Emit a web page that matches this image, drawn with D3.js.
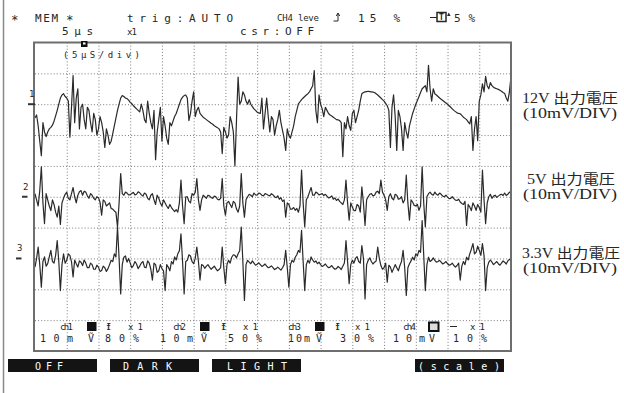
<!DOCTYPE html>
<html>
<head>
<meta charset="utf-8">
<script src="https://cdn.jsdelivr.net/npm/d3@7"></script>
<style>
  html, body { margin: 0; padding: 0; background: #fff; }
  svg { display: block; }
</style>
</head>
<body>
<svg id="scope" width="624" height="393"></svg>
<script>
// ---- acquisition settings ----
const sampleStep = 0.25;         // µs between stored samples
const timeSpan = 75;             // 15 divisions × 5 µs
const mvPerDiv = 10;             // vertical sensitivity of every channel
const groundDiv = [2, 5, 7];     // ground marker of ch1..ch3, in divisions from the top

// ---- stored waveforms (mV relative to each channel's ground marker) ----
const ch1Values = [
  -4.5,-3.5,-7,-12,-16.7,-6,-9,-10.5,-9,-8,-7.5,-6.8,-5.5,-3.8,-2,0,2,3,3.4,2.5,
  2,1,-10.7,-1,9.3,-6,2,5,-8,-1,0,-5,-8,-1,-2,-6,-9,-3,-5,-10,
  -8,-4,-6,-9,-14,-8,-10,-13,-12,-9.5,-7,-4.5,-2,0,2,2.8,2.5,2,1.8,1.3,
  0.6,0.2,-0.5,-1,-1.5,-2,-2.5,0,-2,-5,-6,1,-3,-6,-8,-2,-18,-9,-5,-1,
  -12,-4,-7,-11,-13,-6,-7,-5.5,-4,-3,-1.5,0,1.5,2.3,2.8,3,2,-5.3,-3,1,
  4,-4,-2,-1,-3,-3.6,-4.2,-4.6,-5,-5.4,-5.8,-6.2,-6.5,-7,-7.3,-7.6,-8,-9,-16,-7.5,
  -9,-11,-10,-4,-6,-9,-20,-5,8.8,0,1,4,3,1,0,1.5,0,-0.8,-1.5,-2,
  -2.6,-2.8,-3,2,-8,-3,2,-4,-9,-4,-5,-10,-7,-5,-2,-6,-8.5,-11,-15,-8,
  -10.2,-11,-9,-7,-4,-2,0.1,0.8,1.5,2,2.5,3,3.4,4,5,6,10.9,-2,-6,3,
  0,-1.5,-4,-1,-2,-3,-3.5,-3.8,-4.2,-4.6,-5,-5.1,-5.3,-6,-17,-6,-8,-4,-7,-8.5,
  -3,-2,-6,-4,-2,1,3.4,3.8,4,4.1,4.2,4.1,4,3.9,3.8,3.4,3,2.5,2,1.5,
  1,0.3,-0.5,-2,-14,-1,3,-4,-15,-2,-4,-8,-15,-6,-9,-11,-7,-5,-3,-1.5,
  0,1.2,2.5,3.8,5,5.5,6,4,12.6,5,1,5,3.4,3,2.5,2,1.6,1.2,0.8,0.4,
  0,-0.5,-1,-1.5,-2,-2.4,-2.8,-3,-3.1,-3.6,-4.2,-4.6,-5,-5.7,-6.4,-4,-15,-8,-4,-11.8,
  1,3,6.6,4,9,6,5,7,6,5.5,5.2,5,4.8,4.5,4.2,3.8,3.5,2,1,4,
  9
];
const ch2Values = [
  1,-1,-3,2,9.7,-2,-8.7,1,-1,-3,-4.5,-1,-2.5,-5,-6.6,-3,-9,-2,-0.5,0.8,
  1.5,-0.5,-1,1,3,0,-2,0.5,1.6,2,0.5,1.8,1.5,0.3,-0.5,1,0.5,-0.5,-1,0,
  -0.3,-1.8,-6,-1,-1.5,-3,-2.5,-2,-3.8,-4,-4.6,-5,-9.8,-2,7.5,1,0.5,1.5,1.2,0.6,
  0.6,1.1,1.4,0.6,0.8,1.6,1.3,0.6,0.2,1.2,0.8,-0.5,-1,0.5,1,-1,-2.5,0.5,-0.5,-2,
  -3,-1,-2,-3,-3.8,-2.5,-3.5,-4.2,-4.8,-4.2,-5,-2,5.4,-3,-8.7,0,0,-1.5,-2,1,
  0.5,1.5,5.9,-1,-4.4,-1,0.5,0,-0.5,0.5,0.3,-0.3,-0.5,0.2,0,-0.8,-1,-0.5,5.9,-3,
  -6,-2,-1.5,-2.5,-3.5,-1.5,-2,-4,-5,-3,7.5,-2,-6.6,-1,0,0.8,0.5,0,1.2,0.6,
  0.5,1.2,1,0.5,0.3,1,0.8,0.5,0.3,1,0.6,0,-0.3,0.3,-0.8,-0.3,-1.5,-1,-6.6,-2,
  -2.5,-4,-4,-3.5,-4.4,-3.8,-5,-3,8.6,-2,-9.8,-1,0,1.5,3,0.5,0.5,1.5,1.2,0.6,
  0.8,1,0.4,0.8,0.2,-0.4,-0.2,0.3,-0.8,-0.4,-1.2,-0.7,-1.5,-2,-2.5,-1,5.4,-2,-7.6,-2,
  -3.3,-4.5,-4.5,-2.5,-3,-5,3.2,-2,-9.3,-1,0,0.8,1,0.3,0.5,1.5,1.8,1,5.4,1.5,
  0.5,-1,-4.4,0,1,-0.5,-1,0.8,0.5,-0.8,-0.6,0,-2,-1,7,-2,-7.6,-1,-1.7,-2.8,
  -3,-2.5,-4.4,-3,9.7,-2,-9.8,0,1,1.5,0.8,0.5,1.5,0.8,0.5,1.2,0.8,0.2,0,0.5,
  -0.1,-0.6,-0.5,0,-0.6,-1.1,-1.2,-0.8,-1.7,-2.2,-2.5,-1.5,-9.3,-2.5,-3.3,-4.5,-2,-3,-4.4,-2.5,
  -3.5,-5,8.6,-1,-8.7,-2,0,0.8,-0.5,0.2,0.5,-0.2,0.2,0.6,0.8,0.4,1.2,0.4,0.8,1.5,
  1.2
];
const ch3Values = [
  -2.8,0,3.7,-2,-9.3,-1,0.5,-2.5,-1.7,0.5,2.6,-1,-1.5,1,5.8,-1,-10.4,-2,1.5,-1.5,
  -0.6,1.5,1,-1,-6,-0.5,-1.7,-2.8,-0.8,-1.2,-2.3,-0.5,-1.5,-3,-3,-1.5,-2,-3.5,-3.5,-2.2,
  -2.8,-4.2,-3.9,-2.5,-3,-4.2,-3.3,-2,-0.6,-1,1.5,0.5,10.2,0,-11.5,-2,0.4,0.8,-1.2,0,
  -1.5,-3,-2.3,-1,-1.8,-3.3,-2.5,-1.5,-1,-2.8,-3,-0.8,-1.5,-3.5,-7,-1.5,-2,-4.5,-4,-2,
  -3.3,-4,-10.4,-2,-2.8,-4,-1,-1.8,0.5,-0.5,1.5,2.5,8,-1,-11.5,-1,-0.6,1.2,0.8,-1,
  -1.7,0,3.7,-1,-7,-2,-2.3,-3.2,-2.5,-2,-2.8,-3.5,-3,-2.5,-3.3,-4,-3.6,-3,3.7,-3,
  -8.2,-2,-0.6,-1.5,0.4,1.2,1,0.2,1.5,2.5,10.2,-1,-13.6,-2,-0.6,-1.2,-1.7,-0.8,-1.5,-2.2,
  -1.9,-1.4,-2,-2.6,-2.3,-1.8,-2.5,-3,-2.8,-2.4,-3,-3.6,-3.3,-2.8,-3.3,-3.8,-3,-2,2.6,-3,
  -9.3,-2,-0.6,-1.2,0.4,1.2,2.6,2,9.1,-1,-10.4,-2,-0.6,-1.5,0.5,-0.5,-1.2,-0.8,-1.7,-1.2,
  -2,-2.6,-2.3,-1.8,-2.5,-3,-2.8,-2.3,-3,-3.5,-3.3,-2.6,-3,-3.6,-2.5,-1.5,5.8,-1,-8.2,-2,
  -0.6,-1.5,0,0.6,-1,-1.5,4.2,0,-13.1,-2,-0.6,0.2,-1,-1.8,-1.2,-0.8,3.7,0,-2.3,-3.5,
  -3,-1.5,-7.7,-2.2,-2.8,-4.5,-3.3,-2,-3,-4,-2.3,-1,2.6,-3,-12,-3,-1.7,-0.8,0.4,-0.5,
  1.5,0.8,2.6,2,12.3,1,-10.4,-2,0.4,-1,-0.6,0.2,-0.6,-1.2,-1,-0.6,-1.2,-1.8,-1.5,-1,
  -1.7,-2.2,-2,-1.5,-2.3,-2.8,-2.3,-1.5,-7,-2.5,-1,-2,0.4,-0.5,1.5,3,4.8,1.5,2,4,
  2.6,1,4.8,1,-10.4,-3,-1.2,-0.5,-1.2,-2,-1.5,-1,-1.7,-2.2,-1.5,-0.8,-1.2,-1.8,-0.8,-0.3,
  -0.6
];

// ---- labels ----
const channelIds = ["1", "2", "3"];
const railNames = ["12V 出力電圧", "5V 出力電圧", "3.3V 出力電圧"];
const railScale = "(10mV/DIV)";
const channelNames = ["ch1", "ch2", "ch3", "ch4"];
const channelRanges = ["10m", "10m", "10m", "10m"];
const channelFilters = ["80%", "50%", "30%", "10%"];
const softKeys = ["OFF", "DARK", "LIGHT", "(scale)"];

const svg = d3.select("#scope");
const mono = "'DejaVu Sans Mono', 'Liberation Mono', monospace";
const ink = "#262626";

// ---- scales: time across, divisions down ----
const x = d3.scaleLinear().domain([0, timeSpan]).range([35, 511]);
const yDiv = d3.scaleLinear().domain([0, 10]).range([42.5, 351]);

// outer left rule of the screen capture
svg.append("line").attr("x1", 3.5).attr("x2", 3.5).attr("y1", 0).attr("y2", 393)
  .attr("stroke", "#8a8a8a").attr("stroke-width", 1.5);

// ---- dotted graticule drawn with D3 axes ----
svg.append("g").attr("transform", `translate(0,${yDiv(0)})`)
  .call(d3.axisTop(x).tickValues(d3.range(5, timeSpan, 5))
    .tickSize(-(yDiv(10) - yDiv(0))).tickFormat(""))
  .call(g => g.select(".domain").remove())
  .selectAll("line").attr("stroke", "#7a7a7a").attr("stroke-dasharray", "1,2.15");

svg.append("g").attr("transform", `translate(${x(0)},0)`)
  .call(d3.axisLeft(yDiv).tickValues(d3.range(1, 10))
    .tickSize(-(x(timeSpan) - x(0))).tickFormat(""))
  .call(g => g.select(".domain").remove())
  .selectAll("line").attr("stroke", "#7a7a7a").attr("stroke-dasharray", "1,2.1");

// ---- waveforms ----
svg.append("clipPath").attr("id", "screen")
  .append("rect").attr("x", x(0)).attr("y", yDiv(0))
  .attr("width", x(timeSpan) - x(0)).attr("height", yDiv(10) - yDiv(0));

[ch1Values, ch2Values, ch3Values].forEach((vals, c) => {
  const line = d3.line()
    .x((d, i) => x(i * sampleStep))
    .y(d => yDiv(groundDiv[c] - d / mvPerDiv));
  svg.append("path").datum(vals)
    .attr("clip-path", "url(#screen)")
    .attr("d", line)
    .attr("fill", "none")
    .attr("stroke", "#2a2a2a")
    .attr("stroke-width", 1.2)
    .attr("stroke-linejoin", "round");
});

// ---- screen frame ----
svg.append("rect").attr("x", x(0) - 1).attr("y", yDiv(0))
  .attr("width", x(timeSpan) - x(0) + 1).attr("height", yDiv(10) - yDiv(0))
  .attr("fill", "none").attr("stroke", "#6e6e6e").attr("stroke-width", 2);

// helper for scope-style text
function txt(px, py, s, size, len, opts = {}) {
  const t = svg.append("text").attr("x", px).attr("y", py).text(s)
    .attr("font-family", opts.family || mono)
    .attr("font-size", size)
    .attr("fill", opts.fill || ink);
  if (len) t.attr("textLength", len).attr("lengthAdjust", opts.adjust || "spacing");
  if (opts.weight) t.attr("font-weight", opts.weight);
  if (opts.anchor) t.attr("text-anchor", opts.anchor);
  return t;
}

// ---- header lines ----
txt(11, 23.5, "*", 12.5, null, { fill: "#262626" });
txt(35, 22, "MEM", 11, 23);
txt(66, 23.5, "*", 12.5, null, { fill: "#262626" });
txt(127, 22, "trig:AUTO", 11, 106);
txt(277, 21, "CH4 leve", 9, 42);
svg.append("path").attr("d", "M333.5,21 H338 V13.5 M336.3,16 L338,13 L339.7,16")
  .attr("fill", "none").attr("stroke", ink).attr("stroke-width", 1);
txt(358, 22, "15 %", 11, 42);
svg.append("line").attr("x1", 430).attr("x2", 437).attr("y1", 17.5).attr("y2", 17.5)
  .attr("stroke", ink).attr("stroke-width", 1);
svg.append("rect").attr("x", 437).attr("y", 12.5).attr("width", 9).attr("height", 9)
  .attr("fill", "#fff").attr("stroke", ink).attr("stroke-width", 1.5);
txt(441.5, 20, "T", 8, null, { anchor: "middle", weight: "bold" });
svg.append("path").attr("d", "M447,16 L448.8,12.5 L450.6,16 Z").attr("fill", ink);
txt(454, 22, "5%", 11, 21);

txt(62, 35, "5μs", 11, 31);
txt(127, 35, "x1", 9, 10);
txt(240, 35, "csr:OFF", 11, 74);

// time-base note and trigger-position mark inside the screen
txt(63, 58, "(5μS/div)", 9, 77);
svg.append("rect").attr("x", 81).attr("y", 41).attr("width", 6.5).attr("height", 6).attr("fill", "#111");
svg.append("rect").attr("x", 83).attr("y", 42.5).attr("width", 2.5).attr("height", 2).attr("fill", "#fff");

// ---- channel ground markers ----
const markerX = [28, 22, 16];
channelIds.forEach((id, c) => {
  const gy = yDiv(groundDiv[c]);
  txt(markerX[c] + 1, gy - 7, id, 9);
  svg.append("line").attr("x1", markerX[c]).attr("x2", markerX[c] + (c === 0 ? 7 : 5.5))
    .attr("y1", gy).attr("y2", gy).attr("stroke", "#333").attr("stroke-width", 2);
});

// ---- rail captions on the right ----
const captionY = [103, 184, 258];
const captionX = [522, 527, 522];
const captionLen = [96, 88, 98];
const serif = "'Liberation Serif', 'DejaVu Serif', 'Noto Sans CJK JP', serif";
railNames.forEach((name, c) => {
  txt(captionX[c], captionY[c], name, 14, captionLen[c], { family: serif, adjust: "spacingAndGlyphs" });
  txt(523, captionY[c] + 15, railScale, 14, 94, { family: serif, adjust: "spacingAndGlyphs" });
});

// ---- channel settings rows at the bottom of the screen ----
const colStart = [60, 173, 288, 403];
const swatchX = [87, 200, 315, 429];
const filterX = [106, 221, 335, 450];
const gainX = [128, 243, 355, 470];
const rangeX = [40, 160, 288, 393];
const rangeLen = [33, 33, 22, 32];
const pctX = [105, 228, 340, 453];
channelNames.forEach((name, c) => {
  txt(colStart[c], 330, name, 9, 13);
  if (c < 3) {
    svg.append("rect").attr("x", swatchX[c]).attr("y", 322).attr("width", 9.5).attr("height", 9).attr("fill", "#111");
    txt(filterX[c], 330, "fI", 8, 5);
    txt(rangeX[c], 342, channelRanges[c], 10, rangeLen[c]);
    txt(swatchX[c] + 1, 342, "Ṽ", 10);
  } else {
    svg.append("rect").attr("x", swatchX[c]).attr("y", 322.5).attr("width", 9.5).attr("height", 8.5)
      .attr("fill", "#ddd").attr("stroke", "#111").attr("stroke-width", 2);
    svg.append("line").attr("x1", filterX[c]).attr("x2", filterX[c] + 7).attr("y1", 326.5).attr("y2", 326.5)
      .attr("stroke", ink).attr("stroke-width", 1);
    txt(rangeX[c], 342, channelRanges[c], 10, rangeLen[c]);
    txt(swatchX[c], 342, "V", 10);
  }
  txt(gainX[c], 330, "x 1", 9, 15);
  txt(pctX[c], 342, channelFilters[c], 10, 34);
});

// ---- soft-key bar ----
const keyX = [8, 110, 212, 415];
const keyTextX = [35, 123, 227, 418];
const keyTextLen = [28, 49, 60, 82];
softKeys.forEach((k, i) => {
  svg.append("rect").attr("x", keyX[i]).attr("y", 359).attr("width", 89).attr("height", 13).attr("fill", "#141414");
  txt(keyTextX[i], 370, k, 10, keyTextLen[i], { fill: "#fff" });
});
</script>
</body>
</html>
